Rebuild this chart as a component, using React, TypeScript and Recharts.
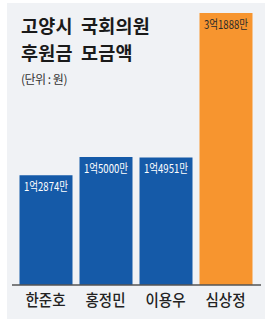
import React from 'react';
import { BarChart, Bar, XAxis, YAxis, Cell, LabelList } from 'recharts';

// 후원금 (단위: 만원)
const names = ['한준호', '홍정민', '이용우', '심상정'];
const amounts = [12874, 15000, 14951, 31888];
const barColors = ['#155aa8', '#155aa8', '#155aa8', '#f7952f'];
const labelColors = ['#ffffff', '#ffffff', '#ffffff', '#2a2a2a'];
const titleLines = ['고양시 국회의원', '후원금 모금액'];

const data = names.map((name, i) => ({ name, amount: amounts[i] }));

const FONT = '"Noto Sans CJK KR", "Noto Sans", sans-serif';

function formatWon(v: number) {
  const eok = Math.floor(v / 10000);
  const man = v % 10000;
  return `${eok}억${man}만`;
}

function NameTick(props: any) {
  const { x, y, payload } = props;
  return (
    <text
      x={x}
      y={y + 14}
      textAnchor="middle"
      dominantBaseline="central"
      fontSize={16}
      fontWeight={500}
      fill="#222"
      fontFamily={FONT}
      textLength={40}
      lengthAdjust="spacingAndGlyphs"
    >
      {payload.value}
    </text>
  );
}

function ValueLabel(props: any) {
  const { x, y, width, value, index } = props;
  return (
    <text
      x={x + width / 2}
      y={y + 10}
      textAnchor="middle"
      dominantBaseline="central"
      fontSize={12}
      fill={labelColors[index]}
      fontFamily={FONT}
      textLength={44}
      lengthAdjust="spacingAndGlyphs"
    >
      {formatWon(value)}
    </text>
  );
}

export default function App() {
  return (
    <div style={{ position: 'absolute', left: 0, top: 0, width: 273, height: 329, background: '#fff', fontFamily: FONT }}>
      <div style={{ position: 'absolute', left: 7, top: 3, width: 258, height: 316, background: '#f0f2f5' }} />
      {titleLines.map((line, i) => (
        <div
          key={line}
          style={{
            position: 'absolute',
            left: 21,
            top: 15 + i * 27,
            fontSize: 18.5,
            fontWeight: 700,
            lineHeight: '20px',
            letterSpacing: 0.2,
            wordSpacing: 4,
            color: '#1a1a1a',
            whiteSpace: 'nowrap',
          }}
        >
          {line}
        </div>
      ))}
      <div style={{ position: 'absolute', left: 21, top: 70, fontSize: 12, color: '#333', letterSpacing: -0.5 }}>
        (단위 : 원)
      </div>
      <div style={{ position: 'absolute', left: 0, top: 0 }}>
        <BarChart width={273} height={329} data={data} margin={{ top: 13, right: 12, bottom: 14, left: 12 }} barSize={53}>
          <XAxis
            dataKey="name"
            height={30}
            tickLine={false}
            tickSize={0}
            tickMargin={0}
            axisLine={{ stroke: '#555', strokeWidth: 1.5 }}
            padding={{ left: 3.5, right: 5.5 }}
            tick={<NameTick />}
            interval={0}
          />
          <YAxis hide domain={[0, 31888]} />
          <Bar dataKey="amount" isAnimationActive={false}>
            {data.map((d, i) => (
              <Cell key={d.name} fill={barColors[i]} />
            ))}
            <LabelList dataKey="amount" content={<ValueLabel />} />
          </Bar>
        </BarChart>
      </div>
    </div>
  );
}
